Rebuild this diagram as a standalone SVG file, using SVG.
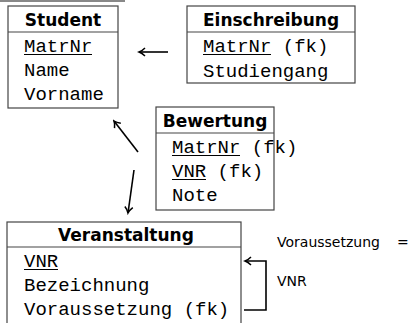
<svg xmlns="http://www.w3.org/2000/svg" width="413" height="323" viewBox="0 0 413 323">
<defs>
<style>
.box{fill:#fff;stroke:#444;stroke-width:1.2}
.div{stroke:#444;stroke-width:1.2}
.hd{font-family:"DejaVu Sans",sans-serif;font-weight:bold;font-size:17px;fill:#000;text-anchor:middle}
.tt{font-family:"Liberation Mono","Courier New",monospace;font-size:19px;fill:#000}
.ul{stroke:#000;stroke-width:1.2}
.lbl{font-family:"DejaVu Sans",sans-serif;font-size:14px;fill:#000}
.arr{fill:none;stroke:#000;stroke-width:1.6;marker-end:url(#ah)}
</style>
<marker id="ah" markerWidth="10" markerHeight="10" refX="8" refY="5" orient="auto" markerUnits="userSpaceOnUse">
<path d="M2,1 Q5,4 8,5 Q5,6 2,9" fill="none" stroke="#000" stroke-width="1.5"/>
</marker>
</defs>
<line x1="0" y1="1" x2="125" y2="1" stroke="#888" stroke-width="2"/>
<g id="student">
<rect class="box" x="8" y="6" width="110" height="102"/>
<line class="div" x1="8" y1="32" x2="118" y2="32"/>
<text class="hd" x="63" y="26">Student</text>
<text class="tt" x="24" y="52">MatrNr</text>
<line class="ul" x1="24" y1="54.5" x2="92" y2="54.5"/>
<text class="tt" x="24" y="76">Name</text>
<text class="tt" x="24" y="100">Vorname</text>
</g>
<g id="einschreibung">
<rect class="box" x="187" y="6" width="168" height="77"/>
<line class="div" x1="187" y1="32" x2="355" y2="32"/>
<text class="hd" x="271" y="26">Einschreibung</text>
<text class="tt" x="203" y="52">MatrNr (fk)</text>
<line class="ul" x1="203" y1="54.5" x2="271" y2="54.5"/>
<text class="tt" x="203" y="77">Studiengang</text>
</g>
<g id="bewertung">
<rect class="box" x="156" y="107" width="118" height="103"/>
<line class="div" x1="156" y1="133" x2="274" y2="133"/>
<text class="hd" x="215" y="127">Bewertung</text>
<text class="tt" x="172" y="153">MatrNr (fk)</text>
<line class="ul" x1="172" y1="155.5" x2="240" y2="155.5"/>
<text class="tt" x="172" y="177">VNR (fk)</text>
<line class="ul" x1="172" y1="179.5" x2="206" y2="179.5"/>
<text class="tt" x="172" y="201">Note</text>
</g>
<g id="veranstaltung">
<rect class="box" x="7" y="222" width="234" height="110"/>
<line class="div" x1="7" y1="247" x2="241" y2="247"/>
<text class="hd" x="126" y="241">Veranstaltung</text>
<text class="tt" x="24" y="267">VNR</text>
<line class="ul" x1="24" y1="269.5" x2="58" y2="269.5"/>
<text class="tt" x="24" y="291">Bezeichnung</text>
<text class="tt" x="24" y="315">Voraussetzung (fk)</text>
</g>
<g id="connectors">
<path class="arr" d="M168,52 L139,52"/>
<path class="arr" d="M138,152 L114,121"/>
<path class="arr" d="M134,170 L128,213"/>
<path class="arr" d="M244,310 H266 V261 H245"/>
</g>
<g id="labels">
<text class="lbl" x="277" y="247">Voraussetzung <tspan x="397">=</tspan></text>
<text class="lbl" x="277" y="286">VNR</text>
</g>
</svg>
